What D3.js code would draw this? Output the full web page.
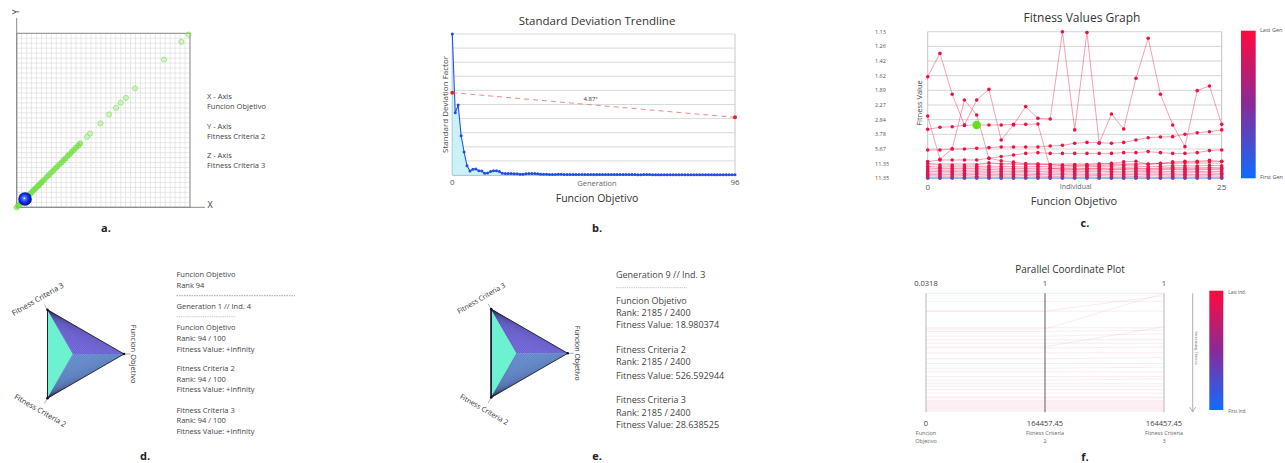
<!DOCTYPE html>
<html><head><meta charset="utf-8">
<script src="https://cdn.jsdelivr.net/npm/d3@7/dist/d3.min.js"></script>
<style>
body{margin:0;background:#fff;}
svg{display:block;font-family:"Open Sans","Noto Sans",sans-serif;}
</style></head><body>
<svg id="chart" width="1285" height="463"></svg>
<script>
// ================= DATA =================
// a. 3D scatter (projected): Funcion Objetivo vs Fitness Criteria 2 (percent of max)
const aFuncionObjetivo  = [0,0.8,1.6,2.5,3.3,4.1,5,5.8,6.6,7.5,8.3,9.1,10,10.8,11.7,12.5,13.4,14.2,15,16.2,17.4,18.6,19.8,21,22.2,23.4,24.6,25.8,27,28.2,29.4,30.6,31.8,33,34.2,35.5,36.6,40.6,42.3,48.3,53.3,57.3,60,63,68.3,85,95,99.2];
const aFitnessCriteria2 = [0,0.9,1.5,2.6,3.2,4.2,4.9,5.9,6.5,7.6,8.2,9.2,10.1,10.7,11.8,12.4,13.5,14.1,15.1,16.1,17.5,18.5,19.9,20.9,22.3,23.3,24.7,25.7,27.1,28.1,29.5,30.5,31.9,32.9,34.3,35.4,36.7,40.5,42.4,48.2,53.4,57.2,60.1,62.9,68.4,84.9,95.1,99.3];
const aSelected = {x: 4.8, y: 4.8};
const aLegend = ["X - Axis","Funcion Objetivo","Y - Axis","Fitness Criteria 2","Z - Axis","Fitness Criteria 3"];

// b. Standard deviation trendline (generations 0..96)
const bStdDev = [10,4.42,4.96,2.79,1.63,0.66,0.28,0.40,0.42,0.30,
  0.28,0.12,0.14,0.24,0.30,0.30,0.24,0.12,0.10,0.10,
  0.10,0.08,0.08,0.06,0.06,0.08,0.10,0.10,0.10,0.08,
  0.06,0.05,0.05,0.04,0.04,0.04,0.05,0.05,0.04,0.04,
  0.04,0.03,0.03,0.04,0.04,0.03,0.03,0.03,0.03,0.03,
  0.03,0.03,0.03,0.03,0.03,0.03,0.03,0.03,0.03,0.03,
  0.03,0.03,0.03,0.02,0.02,0.03,0.03,0.03,0.02,0.02,
  0.02,0.02,0.02,0.02,0.02,0.02,0.02,0.02,0.02,0.02,
  0.02,0.02,0.02,0.02,0.02,0.02,0.02,0.02,0.02,0.02,
  0.02,0.02,0.02,0.02,0.02,0.02,0.02];
const bTrend = [5.84, 4.09];
const bTrendLabel = "4.87°";
const bXTicks = [0, 96];

// c. Fitness values graph (levels 0..10 on the inverse-fitness axis), individuals 0..24
const cYTickLabels = ["11.35","11.35","5.67","3.78","2.84","2.27","1.89","1.62","1.42","1.26","1.13"];
const cXTickLabels = ["0","25"];
const cGen0 = [0,0,0,0,0,0,0,0,0,0,0,0,0,0,0,0,0,0,0,0,0,0,0,0,0];
const cGen1 = [0.08,0.06,0.07,0.05,0.08,0.06,0.07,0.06,0.05,0.07,0.06,0.08,0.05,0.07,0.06,0.05,0.07,0.08,0.06,0.05,0.07,0.06,0.08,0.07,0.06];
const cGen2 = [0.18,0.16,0.15,0.17,0.14,0.18,0.16,0.15,0.17,0.16,0.14,0.15,0.17,0.16,0.18,0.15,0.16,0.14,0.17,0.16,0.15,0.18,0.16,0.17,0.15];
const cGen3 = [0.27,0.25,0.26,0.24,0.27,0.28,0.25,0.26,0.24,0.27,0.25,0.26,0.28,0.25,0.24,0.27,0.26,0.25,0.28,0.26,0.24,0.27,0.25,0.26,0.28];
const cGen4 = [0.36,0.35,0.37,0.34,0.36,0.38,0.35,0.36,0.37,0.34,0.36,0.35,0.37,0.36,0.34,0.38,0.36,0.35,0.37,0.36,0.35,0.37,0.38,0.36,0.35];
const cGen5 = [0.47,0.45,0.46,0.44,0.47,0.49,0.46,0.45,0.47,0.46,0.44,0.45,0.47,0.46,0.48,0.46,0.45,0.47,0.46,0.44,0.47,0.48,0.46,0.45,0.47];
const cGen6 = [0.58,0.55,0.56,0.55,0.57,0.60,0.57,0.56,0.55,0.58,0.56,0.55,0.57,0.56,0.58,0.57,0.59,0.56,0.55,0.57,0.60,0.58,0.57,0.59,0.58];
const cGen7 = [0.70,0.66,0.67,0.66,0.68,0.72,0.69,0.68,0.66,0.70,0.67,0.66,0.68,0.67,0.70,0.69,0.72,0.70,0.66,0.70,0.73,0.72,0.71,0.74,0.72];
const cGen8 = [0.82,0.76,0.78,0.77,0.79,0.84,0.81,0.80,0.77,0.82,0.78,0.76,0.79,0.78,0.82,0.83,0.86,0.84,0.78,0.82,0.86,0.85,0.84,0.88,0.86];
const cGen9 = [1.00,0.90,0.91,0.90,0.92,1.05,0.98,0.97,0.93,0.98,0.94,0.90,0.93,0.94,0.99,1.02,1.12,1.16,0.96,1.02,1.12,1.16,1.16,1.22,1.16];
const cGen10 = [3.34,3.48,3.52,3.61,3.64,3.64,3.64,3.68,3.68,3.70,0.68,0.62,0.60,0.64,0.66,0.62,0.64,0.66,0.62,0.64,0.66,0.63,0.65,0.64,0.66];
const cGen11 = [1.14,1.25,1.25,1.25,1.25,1.36,1.48,1.59,1.70,1.75,1.70,1.70,1.70,1.70,1.70,1.70,1.75,1.75,1.82,1.75,1.70,1.70,1.75,1.89,1.93];
const cGen12 = [1.93,1.93,2.00,2.00,2.05,2.09,2.14,2.14,2.14,2.14,2.20,2.25,2.39,2.45,2.43,2.39,2.45,2.61,2.77,2.82,2.84,3.00,3.11,3.18,3.30];
const cGen13 = [4.25,1.30,2.02,5.34,4.32,1.36,1.20,1.10,1.00,0.96,0.92,0.88,0.86,0.88,0.90,0.92,0.94,0.96,0.98,1.00,1.04,1.08,1.10,1.12,1.14];
const cGen14 = [6.93,8.52,5.73,3.64,5.34,6.07,2.61,3.64,4.89,4.09,4.05,10.0,3.30,9.95,2.39,4.39,3.36,6.82,9.55,5.73,3.64,2.16,5.98,6.30,3.68];
const cSelected = {gen: 10, ind: 4};

// d. Radar (single individual)
const dFuncionObjetivo = [1,0.96,0.91,0.87,0.83,0.78,0.74,0.70,0.65,0.61,0.57,0.52,0.48,0.44,0.40,0.35,0.31,0.27,0.22,0.18,0.14,0.09,0.05,0];
const dInfo = ["Funcion Objetivo","Rank 94","Generation 1 // Ind. 4",
  "Funcion Objetivo","Rank: 94 / 100","Fitness Value: +Infinity",
  "Fitness Criteria 2","Rank: 94 / 100","Fitness Value: +Infinity",
  "Fitness Criteria 3","Rank: 94 / 100","Fitness Value: +Infinity"];

// e. Radar (single individual)
const eFuncionObjetivo = [1,0.95,0.91,0.86,0.82,0.77,0.73,0.69,0.64,0.60,0.55,0.51,0.46,0.42,0.38,0.33,0.29,0.24,0.20,0.15,0.11,0.06,0.02,0];
const eInfo = ["Generation 9 // Ind. 3",
  "Funcion Objetivo","Rank: 2185 / 2400","Fitness Value: 18.980374",
  "Fitness Criteria 2","Rank: 2185 / 2400","Fitness Value: 526.592944",
  "Fitness Criteria 3","Rank: 2185 / 2400","Fitness Value: 28.638525"];
const radarAxes = ["Funcion Objetivo","Fitness Criteria 2","Fitness Criteria 3"];

// f. Parallel coordinates (normalised, 1 = top)
const pcFuncionObjetivo  = [1.00,0.93,0.85,0.71,0.68,0.64,0.61,0.58,0.54,0.50,0.45,0.41,0.37,0.34,0.30,0.27,0.24,0.22,0.19,0.16,0.13,0.12,0.10,0.09,0.08,0.07,0.06,0.05,0.04,0.03,0.02,0.01,0.70,0.85,0.55];
const pcFitnessCriteria2 = [1.00,0.93,0.85,0.71,0.68,0.64,0.61,0.58,0.54,0.50,0.45,0.41,0.37,0.34,0.30,0.27,0.24,0.22,0.19,0.16,0.13,0.12,0.10,0.09,0.08,0.07,0.06,0.05,0.04,0.03,0.02,0.01,0.70,0.85,0.55];
const pcFitnessCriteria3 = [1.00,0.93,0.85,0.71,0.69,0.66,0.61,0.58,0.55,0.50,0.46,0.41,0.38,0.34,0.30,0.28,0.24,0.22,0.19,0.16,0.13,0.12,0.10,0.09,0.08,0.07,0.06,0.05,0.04,0.03,0.02,0.01,1.00,0.98,0.72];
const pcTop = ["0.0318","1","1"];
const pcBottom = ["0","164457.45","164457.45"];
const pcAxisNames = [["Funcion","Objetivo"],["Fitness Criteria","2"],["Fitness Criteria","3"]];

// ================= DRAW =================
const svg = d3.select("#chart");
const defs = svg.append("defs");
function txt(g, x, y, s, o = {}) {
  const t = g.append("text").attr("x", x).attr("y", y).text(s)
    .attr("font-size", o.size || 8).attr("fill", o.fill || "#333")
    .attr("text-anchor", o.anchor || "middle").attr("dominant-baseline", "central");
  if (o.weight) t.attr("font-weight", o.weight);
  if (o.rotate !== undefined) t.attr("transform", `rotate(${o.rotate},${x},${y})`);
  return t;
}
function panelLabel(x, y, s) { txt(svg, x, y, s, {size: 11, weight: "bold", fill: "#222"}); }

// ---------- a ----------
{
  const g = svg.append("g");
  const x = d3.scaleLinear().domain([0,100]).range([16.7,190]);
  const y = d3.scaleLinear().domain([0,100]).range([207.3,33.3]);
  const gridT = d3.range(0, 100.001, 100/35);
  g.selectAll(".gv").data(gridT).join("line").attr("x1", d=>x(d)).attr("x2", d=>x(d))
    .attr("y1", y(0)).attr("y2", y(100)).attr("stroke", "#d9d9d9").attr("stroke-width", 0.6);
  g.selectAll(".gh").data(gridT).join("line").attr("y1", d=>y(d)).attr("y2", d=>y(d))
    .attr("x1", x(0)).attr("x2", x(100)).attr("stroke", "#d9d9d9").attr("stroke-width", 0.6);
  g.append("rect").attr("x", x(0)).attr("y", y(100)).attr("width", x(100)-x(0)).attr("height", y(0)-y(100))
    .attr("fill", "none").attr("stroke", "#8a8a8a").attr("stroke-width", 1);
  g.append("line").attr("x1", x(0)).attr("x2", x(0)).attr("y1", 18).attr("y2", y(0)).attr("stroke", "#8a8a8a");
  g.append("line").attr("x1", x(0)).attr("x2", 205).attr("y1", y(0)).attr("y2", y(0)).attr("stroke", "#8a8a8a");
  txt(g, 15, 12, "Y", {size: 9, fill: "#444", rotate: -90});
  txt(g, 210, 204.5, "X", {size: 9, fill: "#444"});
  const pts = aFuncionObjetivo.map((v,i)=>({x:v, y:aFitnessCriteria2[i]}));
  g.selectAll(".ap").data(pts).join("circle").attr("cx", d=>x(d.x)).attr("cy", d=>y(d.y))
    .attr("r", 2.6).attr("fill", d => d.x < 37 ? "rgba(110,225,60,0.6)" : "rgba(150,235,110,0.35)")
    .attr("stroke", "#6ede4a").attr("stroke-opacity", 0.7).attr("stroke-width", 0.8);
  const rg = defs.append("radialGradient").attr("id", "sphere").attr("cx", "45%").attr("cy", "45%").attr("r", "55%");
  rg.append("stop").attr("offset", "0%").attr("stop-color", "#ffffff");
  rg.append("stop").attr("offset", "18%").attr("stop-color", "#5a7dff");
  rg.append("stop").attr("offset", "60%").attr("stop-color", "#0a26e0");
  rg.append("stop").attr("offset", "100%").attr("stop-color", "#001488");
  g.append("circle").attr("cx", x(aSelected.x)).attr("cy", y(aSelected.y)).attr("r", 6.8).attr("fill", "url(#sphere)");
  const ly = [96, 106, 126, 136, 155, 165];
  aLegend.forEach((s,i)=>txt(g, 207, ly[i], s, {size: 7.5, anchor: "start", fill: "#444"}));
  panelLabel(106, 227, "a.");
}

// ---------- b ----------
{
  const g = svg.append("g");
  const x = d3.scaleLinear().domain([0,96]).range([452.3,735]);
  const y = d3.scaleLinear().domain([0,10]).range([175,34]);
  g.selectAll(".bg").data(y.ticks(10)).join("line").attr("x1", x(0)).attr("x2", x(96))
    .attr("y1", d=>y(d)).attr("y2", d=>y(d)).attr("stroke", "#cfcfcf").attr("stroke-width", 0.8);
  g.append("line").attr("x1", x(96)).attr("x2", x(96)).attr("y1", y(10)).attr("y2", y(0)).attr("stroke", "#c8c8c8");
  g.append("line").attr("x1", x(0)).attr("x2", x(0)).attr("y1", y(10)).attr("y2", y(0)).attr("stroke", "#9a9a9a");
  g.append("line").attr("x1", x(0)).attr("x2", x(96)).attr("y1", y(0)).attr("y2", y(0)).attr("stroke", "#9a9a9a");
  const data = bStdDev.map((v,i)=>({g:i, v}));
  g.append("path").datum(data).attr("d", d3.area().x(d=>x(d.g)).y0(y(0)).y1(d=>y(d.v)))
    .attr("fill", "#c4f1fb").attr("opacity", 0.9);
  g.append("path").datum(data).attr("d", d3.line().x(d=>x(d.g)).y(d=>y(d.v)))
    .attr("fill", "none").attr("stroke", "#2456e6").attr("stroke-width", 1.1);
  g.selectAll(".bp").data(data).join("circle").attr("cx", d=>x(d.g)).attr("cy", d=>y(d.v))
    .attr("r", 1.5).attr("fill", "#1f4fe0");
  const tr = [{g:0, v:bTrend[0]}, {g:96, v:bTrend[1]}];
  g.append("path").datum(tr).attr("d", d3.line().x(d=>x(d.g)).y(d=>y(d.v)))
    .attr("fill", "none").attr("stroke", "#f08a8a").attr("stroke-width", 1).attr("stroke-dasharray", "5,4");
  g.selectAll(".bt").data(tr).join("circle").attr("cx", d=>x(d.g)).attr("cy", d=>y(d.v)).attr("r", 2).attr("fill", "#e02525");
  txt(g, x(47), y((bTrend[0]+bTrend[1])/2) - 6, bTrendLabel, {size: 6, fill: "#333"});
  bXTicks.forEach(t=>txt(g, x(t), 181, String(t), {size: 8, fill: "#555"}));
  txt(g, 597, 183, "Generation", {size: 7.5, fill: "#666"});
  txt(g, 597, 197.5, "Funcion Objetivo", {size: 10.5, fill: "#333"});
  txt(g, 597, 20, "Standard Deviation Trendline", {size: 11.5, fill: "#333"});
  txt(g, 444.5, 104.5, "Standard Deviation Factor", {size: 8, fill: "#444", rotate: -90});
  panelLabel(597, 227, "b.");
}

// ---------- c ----------
{
  const g = svg.append("g");
  const x = d3.scaleLinear().domain([0,24]).range([927.7,1221.7]);
  const y = d3.scaleLinear().domain([0,10]).range([178.3,31.7]);
  g.selectAll(".cg").data(d3.range(11)).join("line").attr("x1", x(0)).attr("x2", x(24))
    .attr("y1", d=>y(d)).attr("y2", d=>y(d)).attr("stroke", "#c9c9c9").attr("stroke-width", 0.8);
  [0,24].forEach(v=>g.append("line").attr("x1", x(v)).attr("x2", x(v)).attr("y1", y(10)).attr("y2", y(0)).attr("stroke", "#c4c4c4"));
  cYTickLabels.forEach((s,i)=>txt(g, 875, y(i), s, {size: 5.5, anchor: "start", fill: "#555"}));
  const series = [cGen0,cGen1,cGen2,cGen3,cGen4,cGen5,cGen6,cGen7,cGen8,cGen9,cGen10,cGen11,cGen12,cGen13,cGen14];
  const n = series.length;
  const col = i => d3.interpolateRgb("#1a6cff", "#f0103f")(Math.pow(i/(n-1), 0.12));
  const line = d3.line().x((d,i)=>x(i)).y(d=>y(d));
  series.forEach((s, k) => {
    g.append("path").datum(s).attr("d", line).attr("fill", "none")
      .attr("stroke", col(k)).attr("stroke-opacity", 0.4).attr("stroke-width", 1);
  });
  series.forEach((s, k) => {
    g.selectAll(null).data(s).join("circle").attr("cx", (d,i)=>x(i)).attr("cy", d=>y(d))
      .attr("r", 1.8).attr("fill", col(k));
  });
  g.append("circle").attr("cx", x(cSelected.ind)).attr("cy", y(series[cSelected.gen][cSelected.ind]))
    .attr("r", 4.3).attr("fill", "#62e01c");
  txt(g, x(0), 186, cXTickLabels[0], {size: 8, fill: "#555"});
  txt(g, x(24), 186, cXTickLabels[1], {size: 8, fill: "#555"});
  txt(g, 1075.7, 186, "Individual", {size: 7, fill: "#666"});
  txt(g, 1074, 200, "Funcion Objetivo", {size: 11, fill: "#333"});
  txt(g, 1082, 17, "Fitness Values Graph", {size: 12, fill: "#333"});
  txt(g, 919.3, 103, "Fitness Value", {size: 7.5, fill: "#444", rotate: -90});
  const lg = defs.append("linearGradient").attr("id", "genGrad").attr("x1", 0).attr("x2", 0).attr("y1", 0).attr("y2", 1);
  lg.append("stop").attr("offset", "0%").attr("stop-color", "#ff0a3a");
  lg.append("stop").attr("offset", "50%").attr("stop-color", "#8a2a98");
  lg.append("stop").attr("offset", "100%").attr("stop-color", "#106cff");
  g.append("rect").attr("x", 1241).attr("y", 30.7).attr("width", 14.7).attr("height", 147.6).attr("fill", "url(#genGrad)");
  txt(g, 1260, 30, "Last Gen", {size: 5.5, anchor: "start", fill: "#555"});
  txt(g, 1260, 177, "First Gen", {size: 5.5, anchor: "start", fill: "#555"});
  panelLabel(1085, 222, "c.");
}

// ---------- d / e radar ----------
function radar(cx, cy, R, foList, labelSize) {
  const g = svg.append("g");
  const r = d3.scaleLinear().domain([0,1]).range([0,R]);
  const ang = {"Funcion Objetivo": 0, "Fitness Criteria 2": 2*Math.PI/3, "Fitness Criteria 3": -2*Math.PI/3};
  const pt = (axis, v) => [cx + r(v)*Math.cos(ang[axis]), cy + r(v)*Math.sin(ang[axis])];
  radarAxes.forEach(a=>{
    const p = pt(a, 1.12);
    g.append("line").attr("x1", cx).attr("y1", cy).attr("x2", p[0]).attr("y2", p[1]).attr("stroke", "#9a9a9a").attr("stroke-width", 0.8);
  });
  const C = [cx, cy], FO = pt("Funcion Objetivo", 1), F2 = pt("Fitness Criteria 2", 1), F3 = pt("Fitness Criteria 3", 1);
  const tri = (a,b,c,f) => g.append("path").attr("d", `M${a}L${b}L${c}Z`).attr("fill", f);
  tri(C, F3, F2, "#6cf2d0");
  tri(C, F3, FO, "#7a6ee4");
  tri(C, FO, F2, "#6e97d8");
  foList.forEach(v=>{
    const p = pt("Funcion Objetivo", v);
    g.append("path").attr("d", `M${p}L${F3}L${F2}Z`).attr("fill", "none")
      .attr("stroke", "#23224a").attr("stroke-opacity", 0.35).attr("stroke-width", 0.5);
  });
  g.append("path").attr("d", `M${FO}L${F3}L${F2}Z`).attr("fill", "none").attr("stroke", "#222").attr("stroke-width", 0.9);
  [FO,F2,F3].forEach(p=>g.append("circle").attr("cx", p[0]).attr("cy", p[1]).attr("r", 1.3).attr("fill", "#111"));
  txt(g, FO[0]+9.5, cy, "Funcion Objetivo", {size: labelSize, fill: "#333", rotate: 90});
  txt(g, F3[0]-10, F3[1]-11, "Fitness Criteria 3", {size: labelSize, fill: "#333", rotate: -30});
  txt(g, F2[0]-7, F2[1]+12, "Fitness Criteria 2", {size: labelSize, fill: "#333", rotate: 30});
  return g;
}
{
  const g = radar(73, 354, 51, dFuncionObjetivo, 7.5);
  const ys = [274.3, 285, 306, 327.3, 338, 348.7, 368.3, 378.7, 389, 410, 420.3, 431];
  dInfo.forEach((s,i)=>txt(g, 176.5, ys[i], s, {size: 7.5, anchor: "start", fill: "#444"}));
  g.append("line").attr("x1", 176.5).attr("x2", 295).attr("y1", 295.7).attr("y2", 295.7).attr("stroke", "#666").attr("stroke-width", 0.6).attr("stroke-dasharray", "1.5,1");
  g.append("line").attr("x1", 176.5).attr("x2", 236).attr("y1", 316.7).attr("y2", 316.7).attr("stroke", "#888").attr("stroke-width", 0.5).attr("stroke-dasharray", "1.2,1");
  panelLabel(145, 455, "d.");
}
{
  const g = radar(516.7, 353.3, 51, eFuncionObjetivo, 7);
  const ys = [274.3, 300.3, 312, 324, 349, 361.7, 375, 399.3, 412.7, 424.3];
  eInfo.forEach((s,i)=>txt(g, 616, ys[i], s, {size: 9, anchor: "start", fill: "#444"}));
  g.append("line").attr("x1", 616).attr("x2", 687).attr("y1", 287.7).attr("y2", 287.7).attr("stroke", "#888").attr("stroke-width", 0.5).attr("stroke-dasharray", "1.2,1");
  panelLabel(597, 455, "e.");
}

// ---------- f ----------
{
  const g = svg.append("g");
  const axes = ["Funcion Objetivo","Fitness Criteria 2","Fitness Criteria 3"];
  const x = d3.scalePoint().domain(axes).range([926,1164]);
  const y = d3.scaleLinear().domain([0,1]).range([412.3,293.3]);
  const rows = pcFuncionObjetivo.map((v,i)=>[v, pcFitnessCriteria2[i], pcFitnessCriteria3[i]]);
  const line = d3.line().x((d,i)=>x(axes[i])).y(d=>y(d));
  rows.forEach(r=>g.append("path").datum(r).attr("d", line).attr("fill", "none")
    .attr("stroke", "#f08aa3").attr("stroke-opacity", 0.22).attr("stroke-width", 0.8));
  axes.forEach((a,i)=>{
    g.append("line").attr("x1", x(a)).attr("x2", x(a)).attr("y1", y(1)).attr("y2", y(0))
      .attr("stroke", i===1 ? "#777" : "#b0b0b0").attr("stroke-width", i===1 ? 1.2 : 0.9);
    txt(g, x(a), 283.3, pcTop[i], {size: 7.5, fill: "#444"});
    txt(g, x(a), 422.7, pcBottom[i], {size: 7.5, fill: "#444"});
    txt(g, x(a), 433.3, pcAxisNames[i][0], {size: 5.5, fill: "#666"});
    txt(g, x(a), 440.8, pcAxisNames[i][1], {size: 5.5, fill: "#666"});
  });
  txt(g, 1070, 269.3, "Parallel Coordinate Plot", {size: 10, fill: "#333"});
  const lg = defs.append("linearGradient").attr("id", "indGrad").attr("x1", 0).attr("x2", 0).attr("y1", 0).attr("y2", 1);
  lg.append("stop").attr("offset", "0%").attr("stop-color", "#ff0a3a");
  lg.append("stop").attr("offset", "50%").attr("stop-color", "#8a2a98");
  lg.append("stop").attr("offset", "100%").attr("stop-color", "#106cff");
  g.append("rect").attr("x", 1209.3).attr("y", 290.7).attr("width", 14).attr("height", 119.3).attr("fill", "url(#indGrad)");
  txt(g, 1228.3, 291.7, "Last Ind.", {size: 4.5, anchor: "start", fill: "#555"});
  txt(g, 1228.3, 410.7, "First Ind.", {size: 4.5, anchor: "start", fill: "#555"});
  g.append("line").attr("x1", 1192.7).attr("x2", 1192.7).attr("y1", 293.3).attr("y2", 411.7).attr("stroke", "#999").attr("stroke-width", 0.8);
  g.append("path").attr("d", "M1189.7,407.2L1192.7,411.7L1195.7,407.2").attr("fill", "none").attr("stroke", "#999").attr("stroke-width", 0.8);
  txt(g, 1196.8, 348, "Increasing Fitness", {size: 4, fill: "#777", rotate: 90});
  panelLabel(1085, 456.7, "f.");
}
</script></body></html>
